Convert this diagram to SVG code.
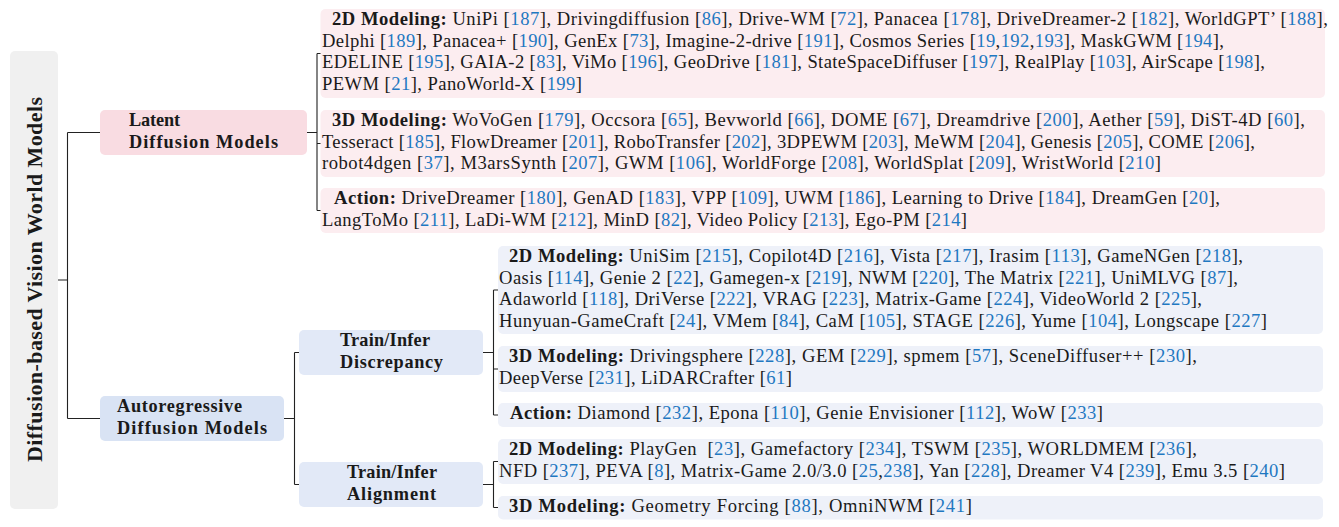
<svg xmlns="http://www.w3.org/2000/svg" width="1339" height="527" viewBox="0 0 1339 527">
<style>
text{font-family:"Liberation Serif","Times New Roman",serif;fill:#1a1a1a;}
.t{font-size:18.6px;}
.b{font-weight:bold;}
.c{fill:#1f78c1;}
.lbl{font-size:18.3px;font-weight:bold;}
.root{font-size:22px;font-weight:bold;}
.conn{fill:none;stroke:#222;stroke-width:1.1;}
.rootbox{fill:#f0f0f0;}
.pinkN{fill:#f9dce2;}
.pinkL{fill:#fcedf0;}
.blueN{fill:#d9e3f4;}
.blueM{fill:#e2e9f7;}
.blueL{fill:#eef1f9;}
</style>

<g id="connectors">
<path class="conn" d="M58,280H67.5M67.5,132.5V418.5M67.5,132.5H100M67.5,418.5H100"/>
<path class="conn" d="M307,132.5H317M317,53.5V210.5M317,53.5H321M317,143.5H321M317,210.5H321"/>
<path class="conn" d="M284,418.5H294.5M294.5,352.5V484.5M294.5,352.5H299M294.5,484.5H299"/>
<path class="conn" d="M483,352.5H493.5M493.5,290V415M493.5,290H498M493.5,369H498M493.5,415H498"/>
<path class="conn" d="M483,484.5H493.5M493.5,461.5V507.5M493.5,461.5H498M493.5,507.5H498"/>
</g>

<g id="root">
<rect class="rootbox" x="10" y="51" width="48" height="458" rx="5"/>
<text class="root" transform="translate(41.5,279.5) rotate(-90)" text-anchor="middle" textLength="365" lengthAdjust="spacing">Diffusion-based Vision World Models</text>
</g>

<g id="latent">
<rect class="pinkN" x="100" y="110" width="207" height="45" rx="5"/>
<text class="lbl" x="129" y="126" textLength="51" lengthAdjust="spacing">Latent</text>
<text class="lbl" x="129" y="148" textLength="149" lengthAdjust="spacing">Diffusion Models</text>
</g>

<g id="latent-2d">
<rect class="pinkL" x="320.5" y="9" width="1004.5" height="89" rx="5"/>
<text class="t" x="332" y="25" textLength="996" lengthAdjust="spacing"><tspan class="b">2D Modeling:</tspan> UniPi [<tspan class="c">187</tspan>], Drivingdiffusion [<tspan class="c">86</tspan>], Drive-WM [<tspan class="c">72</tspan>], Panacea [<tspan class="c">178</tspan>], DriveDreamer-2 [<tspan class="c">182</tspan>], WorldGPT’ [<tspan class="c">188</tspan>],</text>
<text class="t" x="322" y="46.5" textLength="902" lengthAdjust="spacing">Delphi [<tspan class="c">189</tspan>], Panacea+ [<tspan class="c">190</tspan>], GenEx [<tspan class="c">73</tspan>], Imagine-2-drive [<tspan class="c">191</tspan>], Cosmos Series [<tspan class="c">19</tspan>,<tspan class="c">192</tspan>,<tspan class="c">193</tspan>], MaskGWM [<tspan class="c">194</tspan>],</text>
<text class="t" x="322" y="68" textLength="943" lengthAdjust="spacing">EDELINE [<tspan class="c">195</tspan>], GAIA-2 [<tspan class="c">83</tspan>], ViMo [<tspan class="c">196</tspan>], GeoDrive [<tspan class="c">181</tspan>], StateSpaceDiffuser [<tspan class="c">197</tspan>], RealPlay [<tspan class="c">103</tspan>], AirScape [<tspan class="c">198</tspan>],</text>
<text class="t" x="322" y="89.5" textLength="260" lengthAdjust="spacing">PEWM [<tspan class="c">21</tspan>], PanoWorld-X [<tspan class="c">199</tspan>]</text>
</g>

<g id="latent-3d">
<rect class="pinkL" x="320.5" y="110" width="1004.5" height="67" rx="5"/>
<text class="t" x="332" y="126" textLength="973" lengthAdjust="spacing"><tspan class="b">3D Modeling:</tspan> WoVoGen [<tspan class="c">179</tspan>], Occsora [<tspan class="c">65</tspan>], Bevworld [<tspan class="c">66</tspan>], DOME [<tspan class="c">67</tspan>], Dreamdrive [<tspan class="c">200</tspan>], Aether [<tspan class="c">59</tspan>], DiST-4D [<tspan class="c">60</tspan>],</text>
<text class="t" x="322" y="147.5" textLength="933" lengthAdjust="spacing">Tesseract [<tspan class="c">185</tspan>], FlowDreamer [<tspan class="c">201</tspan>], RoboTransfer [<tspan class="c">202</tspan>], 3DPEWM [<tspan class="c">203</tspan>], MeWM [<tspan class="c">204</tspan>], Genesis [<tspan class="c">205</tspan>], COME [<tspan class="c">206</tspan>],</text>
<text class="t" x="322" y="169" textLength="839" lengthAdjust="spacing">robot4dgen [<tspan class="c">37</tspan>], M3arsSynth [<tspan class="c">207</tspan>], GWM [<tspan class="c">106</tspan>], WorldForge [<tspan class="c">208</tspan>], WorldSplat [<tspan class="c">209</tspan>], WristWorld [<tspan class="c">210</tspan>]</text>
</g>

<g id="latent-action">
<rect class="pinkL" x="320.5" y="188" width="1004.5" height="45" rx="5"/>
<text class="t" x="334" y="204" textLength="886" lengthAdjust="spacing"><tspan class="b">Action:</tspan> DriveDreamer [<tspan class="c">180</tspan>], GenAD [<tspan class="c">183</tspan>], VPP [<tspan class="c">109</tspan>], UWM [<tspan class="c">186</tspan>], Learning to Drive [<tspan class="c">184</tspan>], DreamGen [<tspan class="c">20</tspan>],</text>
<text class="t" x="322" y="225.5" textLength="645" lengthAdjust="spacing">LangToMo [<tspan class="c">211</tspan>], LaDi-WM [<tspan class="c">212</tspan>], MinD [<tspan class="c">82</tspan>], Video Policy [<tspan class="c">213</tspan>], Ego-PM [<tspan class="c">214</tspan>]</text>
</g>

<g id="autoregressive">
<rect class="blueN" x="100" y="396" width="184" height="45" rx="5"/>
<text class="lbl" x="117" y="412" textLength="125" lengthAdjust="spacing">Autoregressive</text>
<text class="lbl" x="117" y="434" textLength="150" lengthAdjust="spacing">Diffusion Models</text>
</g>

<g id="discrepancy">
<rect class="blueM" x="299" y="330" width="184" height="45" rx="5"/>
<text class="lbl" x="340" y="346" textLength="90" lengthAdjust="spacing">Train/Infer</text>
<text class="lbl" x="340" y="368" textLength="103" lengthAdjust="spacing">Discrepancy</text>
</g>

<g id="alignment">
<rect class="blueM" x="299" y="462" width="184" height="45" rx="5"/>
<text class="lbl" x="347" y="478" textLength="90" lengthAdjust="spacing">Train/Infer</text>
<text class="lbl" x="347" y="500" textLength="89" lengthAdjust="spacing">Alignment</text>
</g>

<g id="disc-2d">
<rect class="blueL" x="498" y="246" width="825" height="88" rx="5"/>
<text class="t" x="509" y="262" textLength="734" lengthAdjust="spacing"><tspan class="b">2D Modeling:</tspan> UniSim [<tspan class="c">215</tspan>], Copilot4D [<tspan class="c">216</tspan>], Vista [<tspan class="c">217</tspan>], Irasim [<tspan class="c">113</tspan>], GameNGen [<tspan class="c">218</tspan>],</text>
<text class="t" x="499" y="283.5" textLength="739" lengthAdjust="spacing">Oasis [<tspan class="c">114</tspan>], Genie 2 [<tspan class="c">22</tspan>], Gamegen-x [<tspan class="c">219</tspan>], NWM [<tspan class="c">220</tspan>], The Matrix [<tspan class="c">221</tspan>], UniMLVG [<tspan class="c">87</tspan>],</text>
<text class="t" x="499" y="305" textLength="703" lengthAdjust="spacing">Adaworld [<tspan class="c">118</tspan>], DriVerse [<tspan class="c">222</tspan>], VRAG [<tspan class="c">223</tspan>], Matrix-Game [<tspan class="c">224</tspan>], VideoWorld 2 [<tspan class="c">225</tspan>],</text>
<text class="t" x="499" y="326.5" textLength="768" lengthAdjust="spacing">Hunyuan-GameCraft [<tspan class="c">24</tspan>], VMem [<tspan class="c">84</tspan>], CaM [<tspan class="c">105</tspan>], STAGE [<tspan class="c">226</tspan>], Yume [<tspan class="c">104</tspan>], Longscape [<tspan class="c">227</tspan>]</text>
</g>

<g id="disc-3d">
<rect class="blueL" x="498" y="346" width="825" height="46" rx="5"/>
<text class="t" x="509" y="362" textLength="688" lengthAdjust="spacing"><tspan class="b">3D Modeling:</tspan> Drivingsphere [<tspan class="c">228</tspan>], GEM [<tspan class="c">229</tspan>], spmem [<tspan class="c">57</tspan>], SceneDiffuser++ [<tspan class="c">230</tspan>],</text>
<text class="t" x="499" y="383.5" textLength="293" lengthAdjust="spacing">DeepVerse [<tspan class="c">231</tspan>], LiDARCrafter [<tspan class="c">61</tspan>]</text>
</g>

<g id="disc-action">
<rect class="blueL" x="498" y="403" width="825" height="24" rx="5"/>
<text class="t" x="510" y="419" textLength="593" lengthAdjust="spacing"><tspan class="b">Action:</tspan> Diamond [<tspan class="c">232</tspan>], Epona [<tspan class="c">110</tspan>], Genie Envisioner [<tspan class="c">112</tspan>], WoW [<tspan class="c">233</tspan>]</text>
</g>

<g id="align-2d">
<rect class="blueL" x="498" y="439" width="825" height="45" rx="5"/>
<text class="t" x="509" y="455" textLength="688" lengthAdjust="spacing"><tspan class="b">2D Modeling:</tspan> PlayGen&#160; [<tspan class="c">23</tspan>], Gamefactory [<tspan class="c">234</tspan>], TSWM [<tspan class="c">235</tspan>], WORLDMEM [<tspan class="c">236</tspan>],</text>
<text class="t" x="499" y="476.5" textLength="786" lengthAdjust="spacing">NFD [<tspan class="c">237</tspan>], PEVA [<tspan class="c">8</tspan>], Matrix-Game 2.0/3.0 [<tspan class="c">25</tspan>,<tspan class="c">238</tspan>], Yan [<tspan class="c">228</tspan>], Dreamer V4 [<tspan class="c">239</tspan>], Emu 3.5 [<tspan class="c">240</tspan>]</text>
</g>

<g id="align-3d">
<rect class="blueL" x="498" y="496" width="825" height="23.5" rx="5"/>
<text class="t" x="509" y="512" textLength="463" lengthAdjust="spacing"><tspan class="b">3D Modeling:</tspan> Geometry Forcing [<tspan class="c">88</tspan>], OmniNWM [<tspan class="c">241</tspan>]</text>
</g>
</svg>
